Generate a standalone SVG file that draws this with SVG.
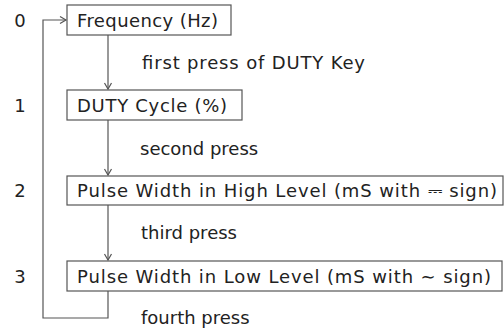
<svg xmlns="http://www.w3.org/2000/svg" width="504" height="331" viewBox="0 0 504 331">
<defs>
<style>
.box{fill:#fff;stroke:#555;stroke-width:1.2}
.t{font-family:"DejaVu Sans",sans-serif;font-size:18px;fill:#222}
.n{font-family:"DejaVu Sans",sans-serif;font-size:18px;fill:#222;text-anchor:middle}
.c{fill:none;stroke:#555;stroke-width:1.2}
</style>
<marker id="ah" markerWidth="10" markerHeight="10" refX="8" refY="5" orient="auto" markerUnits="userSpaceOnUse">
<path d="M2,1.5 L8,5 L2,8.5" fill="none" stroke="#555" stroke-width="1.2"/>
</marker>
</defs>
<rect width="504" height="331" fill="#fff"/>
<g id="connectors">
<line class="c" x1="108" y1="35" x2="108" y2="89" marker-end="url(#ah)"/>
<line class="c" x1="108" y1="120" x2="108" y2="175" marker-end="url(#ah)"/>
<line class="c" x1="108" y1="205" x2="108" y2="260" marker-end="url(#ah)"/>
<polyline class="c" points="108,291 108,318 43,318 43,20 66,20" marker-end="url(#ah)"/>
<text class="t" x="142" y="69" textLength="223" lengthAdjust="spacing">first press of DUTY Key</text>
<text class="t" x="140" y="155">second press</text>
<text class="t" x="141" y="239">third press</text>
<text class="t" x="141" y="324">fourth press</text>
</g>
<g id="labels">
<text class="n" x="20" y="27">0</text>
<text class="n" x="20" y="112">1</text>
<text class="n" x="20" y="197">2</text>
<text class="n" x="20" y="283">3</text>
</g>
<g id="node0">
<rect class="box" x="67" y="5" width="164" height="30"/>
<text class="t" x="77" y="27" textLength="141" lengthAdjust="spacing">Frequency (Hz)</text>
</g>
<g id="node1">
<rect class="box" x="67" y="90" width="175" height="30"/>
<text class="t" x="77" y="112" textLength="150" lengthAdjust="spacing">DUTY Cycle (%)</text>
</g>
<g id="node2">
<rect class="box" x="67" y="176" width="436" height="29"/>
<text class="t" x="77" y="197" textLength="420" lengthAdjust="spacing">Pulse Width in High Level (mS with ⎓ sign)</text>
</g>
<g id="node3">
<rect class="box" x="67" y="261" width="435" height="30"/>
<text class="t" x="77" y="283" textLength="414" lengthAdjust="spacing">Pulse Width in Low Level (mS with ∼ sign)</text>
</g>
</svg>
